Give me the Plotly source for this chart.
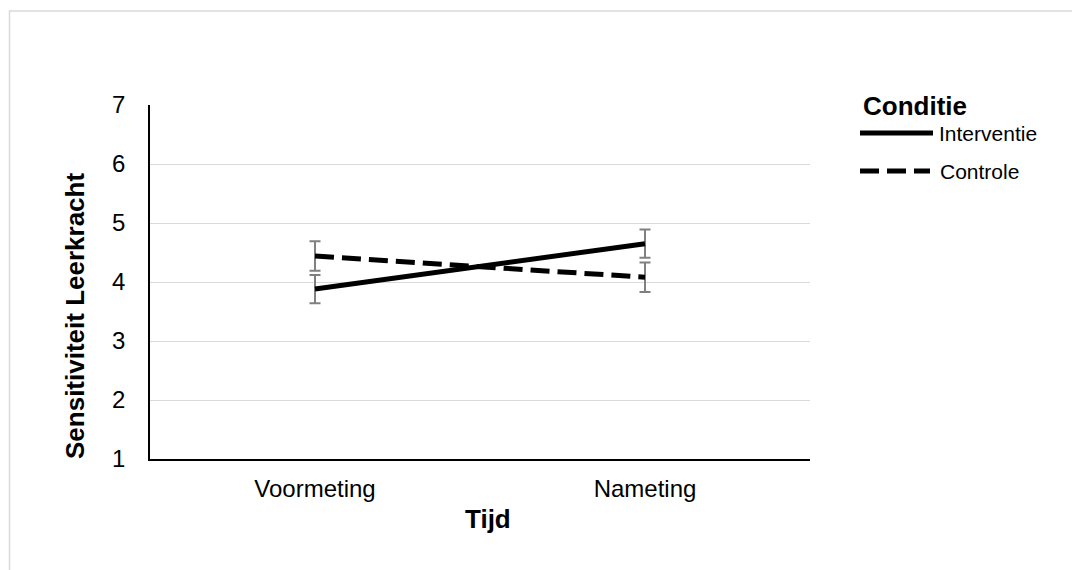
import plotly.graph_objects as go

categories = ["Voormeting", "Nameting"]
interventie = [3.88, 4.65]
interventie_err = [0.24, 0.24]
controle = [4.44, 4.08]
controle_err = [0.25, 0.25]
y_ticks = [1, 2, 3, 4, 5, 6, 7]

OFF = 8  # default body margin of the page
W, H = 1072, 562
L, T = 150 - OFF, 105 - OFF
pw, ph = 660, 354
R, B = W - L - pw, H - T - ph

def px(x_page):
    return (x_page - OFF - L) / pw

def py(y_page):
    return (H - B - (y_page - OFF)) / ph

FONT = "Liberation Sans, Arial, sans-serif"
ERR_COL = "#808080"
DASH = "19px,8px"

fig = go.Figure()
fig.add_trace(go.Scatter(
    x=categories, y=interventie, mode="lines", name="Interventie",
    line=dict(color="black", width=5),
    error_y=dict(type="data", array=interventie_err, color=ERR_COL, thickness=2, width=5.5),
))
fig.add_trace(go.Scatter(
    x=categories, y=controle, mode="lines", name="Controle",
    line=dict(color="black", width=5, dash=DASH),
    error_y=dict(type="data", array=controle_err, color=ERR_COL, thickness=2, width=5.5),
))

shapes = [
    dict(type="rect", xref="paper", yref="paper",
         x0=px(9.5), x1=px(1100), y0=py(620), y1=py(11),
         line=dict(color="#d9d9d9", width=1.5), fillcolor="rgba(0,0,0,0)", layer="below"),
    dict(type="line", xref="paper", yref="paper", x0=px(860), x1=px(933), y0=py(133), y1=py(133),
         line=dict(color="black", width=5)),
    dict(type="line", xref="paper", yref="paper", x0=px(860), x1=px(930), y0=py(171), y1=py(171),
         line=dict(color="black", width=5, dash=DASH)),
]

annotations = [
    dict(text="<b>Conditie</b>", xref="paper", yref="paper", x=px(861), y=py(106),
         xanchor="left", yanchor="middle", showarrow=False,
         font=dict(size=26, color="black", family=FONT)),
    dict(text="Interventie", xref="paper", yref="paper", x=px(937), y=py(134),
         xanchor="left", yanchor="middle", showarrow=False,
         font=dict(size=21, color="black", family=FONT)),
    dict(text="Controle", xref="paper", yref="paper", x=px(938), y=py(171),
         xanchor="left", yanchor="middle", showarrow=False,
         font=dict(size=21, color="black", family=FONT)),
    dict(text="<b>Tijd</b>", xref="paper", yref="paper", x=px(488), y=py(519),
         xanchor="center", yanchor="middle", showarrow=False,
         font=dict(size=26, color="black", family=FONT)),
    dict(text="<b>Sensitiviteit Leerkracht</b>", xref="paper", yref="paper", x=px(75), y=py(316),
         xanchor="center", yanchor="middle", showarrow=False, textangle=-90,
         font=dict(size=26, color="black", family=FONT)),
]

fig.update_layout(
    width=W, height=H,
    margin=dict(l=L, r=R, t=T, b=B),
    paper_bgcolor="white", plot_bgcolor="white",
    showlegend=False,
    font=dict(family=FONT, color="black", size=24),
    shapes=shapes, annotations=annotations,
)
fig.update_xaxes(
    type="category", range=[-0.5, 1.5],
    showline=True, linecolor="black", linewidth=1.5,
    showgrid=False, ticks="", ticklabelstandoff=7,
    tickfont=dict(size=24, color="black"),
)
fig.update_yaxes(
    range=[1, 7], tickvals=y_ticks,
    showline=True, linecolor="black", linewidth=1.5,
    showgrid=True, gridcolor="#d9d9d9", gridwidth=1, zeroline=False,
    ticks="", ticklabelstandoff=18,
    tickfont=dict(size=24, color="black"),
)

fig.write_html("out.html")
